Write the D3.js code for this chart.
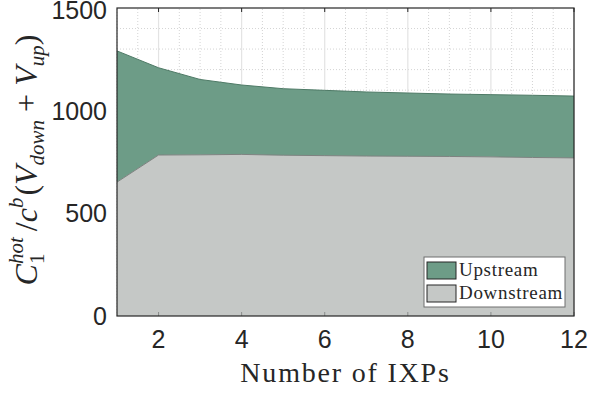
<!DOCTYPE html>
<html>
<head>
<meta charset="utf-8">
<script src="https://cdn.jsdelivr.net/npm/d3@7"></script>
<style>
  html, body { margin: 0; padding: 0; background: #fff; }
  svg { display: block; }
</style>
</head>
<body>
<svg id="chart" width="589" height="393"></svg>
<script>
// Number of IXPs on the x axis
const ixps = [1, 2, 3, 4, 5, 6, 7, 8, 9, 10, 11, 12];
// Stacked series (bottom layer first)
const downstream = [652, 784, 785, 787, 783, 781, 779, 778, 777, 775, 772, 770];
const upstream   = [639, 425, 367, 338, 324, 318, 312, 308, 304, 303, 303, 301];
const seriesNames = ["Downstream", "Upstream"];
// Tick values
const xTicks = [2, 4, 6, 8, 10, 12];
const yTicks = [0, 500, 1000, 1500];

const svg = d3.select("#chart");
const margin = { left: 117, right: 15, top: 8, bottom: 77 };
const W = 589, H = 393;
const x0 = margin.left, x1 = W - margin.right;
const y0 = H - margin.bottom, y1 = margin.top;

const x = d3.scaleLinear().domain([1, 12]).range([x0, x1]);
const y = d3.scaleLinear().domain([0, 1500]).range([y0, y1]);

const colors = { Downstream: "#c5c8c6", Upstream: "#6d9c87" };
const edgeColors = { Downstream: "#7e8280", Upstream: "#4e7a66" };

// grid (minor dotted, major solid) underneath the areas
const grid = svg.append("g");
d3.range(1, 12.01, 0.5).filter(v => v % 2 !== 0).forEach(v => {
  grid.append("line").attr("x1", x(v)).attr("x2", x(v)).attr("y1", y0).attr("y2", y1)
    .attr("stroke", "#d4d4d4").attr("stroke-width", 1).attr("stroke-dasharray", "1,2");
});
d3.range(100, 1500, 100).filter(v => v % 500 !== 0).forEach(v => {
  grid.append("line").attr("x1", x0).attr("x2", x1).attr("y1", y(v)).attr("y2", y(v))
    .attr("stroke", "#d4d4d4").attr("stroke-width", 1).attr("stroke-dasharray", "1,2");
});
xTicks.forEach(v => {
  grid.append("line").attr("x1", x(v)).attr("x2", x(v)).attr("y1", y0).attr("y2", y1)
    .attr("stroke", "#e3e3e3").attr("stroke-width", 1.2);
});
yTicks.slice(1, -1).forEach(v => {
  grid.append("line").attr("x1", x0).attr("x2", x1).attr("y1", y(v)).attr("y2", y(v))
    .attr("stroke", "#e3e3e3").attr("stroke-width", 1.2);
});

// stacked areas
const table = ixps.map((n, i) => ({ n, Downstream: downstream[i], Upstream: upstream[i] }));
const stacked = d3.stack().keys(seriesNames)(table);
const area = d3.area().x(d => x(d.data.n)).y0(d => y(d[0])).y1(d => y(d[1]));
const topLine = d3.line().x(d => x(d.data.n)).y(d => y(d[1]));

svg.append("g").selectAll("path.area").data(stacked).join("path")
  .attr("class", "area")
  .attr("d", area)
  .attr("fill", d => colors[d.key]);
svg.append("g").selectAll("path.edge").data(stacked).join("path")
  .attr("class", "edge")
  .attr("d", topLine)
  .attr("fill", "none")
  .attr("stroke", d => edgeColors[d.key])
  .attr("stroke-width", 1);

// axes frame and inward ticks
const axisColor = "#262626";
const frame = svg.append("g");
xTicks.forEach(v => {
  frame.append("line").attr("x1", x(v)).attr("x2", x(v)).attr("y1", y1).attr("y2", y1 + 4)
    .attr("stroke", axisColor).attr("stroke-width", 1);
  frame.append("line").attr("x1", x(v)).attr("x2", x(v)).attr("y1", y0).attr("y2", y0 - 4)
    .attr("stroke", "#8a8c8b").attr("stroke-width", 1);
});
frame.append("rect").attr("x", x0).attr("y", y1).attr("width", x1 - x0).attr("height", y0 - y1)
  .attr("fill", "none").attr("stroke", axisColor).attr("stroke-width", 1.2);

// tick labels
const tickFont = "'Liberation Sans', Arial, Helvetica, sans-serif";
svg.append("g").selectAll("text").data(xTicks).join("text")
  .attr("x", d => x(d)).attr("y", y0 + 32)
  .attr("text-anchor", "middle")
  .attr("font-family", tickFont).attr("font-size", 25).attr("fill", axisColor)
  .text(d => d);
svg.append("g").selectAll("text").data(yTicks).join("text")
  .attr("x", x0 - 10).attr("y", d => Math.max(y(d) + 9, 19))
  .attr("text-anchor", "end")
  .attr("font-family", tickFont).attr("font-size", 25).attr("fill", axisColor)
  .text(d => d);

// x axis title
const serif = "'Liberation Serif', 'Times New Roman', serif";
svg.append("text")
  .attr("x", (x0 + x1) / 2).attr("y", 382)
  .attr("text-anchor", "middle")
  .attr("font-family", serif).attr("font-size", 28).attr("letter-spacing", 1.8)
  .attr("fill", "#262626")
  .text("Number of IXPs");

// y axis title: C_1^{hot} / c^b (V_down + V_up), laid out piece by piece
const yLabel = [
  { t: "C", it: true, s: 32 },
  { t: "hot", it: true, s: 21, dy: -14, stack: "start" },
  { t: "1", it: false, s: 21, dy: 7, stack: "end" },
  { t: "/", it: false, s: 32, pad: 6 },
  { t: "c", it: true, s: 32 },
  { t: "b", it: true, s: 21, dy: -14 },
  { t: "(", it: false, s: 32, pad: 2 },
  { t: "V", it: true, s: 32 },
  { t: "down", it: true, s: 21, dy: 7 },
  { t: "+", it: false, s: 32, pad: 8, padAfter: 8 },
  { t: "V", it: true, s: 32 },
  { t: "up", it: true, s: 21, dy: 7 },
  { t: ")", it: false, s: 32 }
];
const yl = svg.append("g");
let cursor = 0, stackStart = 0, stackMax = 0;
yLabel.forEach(p => {
  cursor += p.pad || 0;
  if (p.stack === "end") cursor = stackStart;
  const el = yl.append("text")
    .attr("x", cursor).attr("y", p.dy || 0)
    .attr("font-family", serif).attr("font-size", p.s)
    .attr("font-style", p.it ? "italic" : "normal")
    .attr("fill", "#262626")
    .text(p.t);
  const w = el.node().getComputedTextLength();
  if (p.stack === "start") { stackStart = cursor; stackMax = w; cursor += w; }
  else if (p.stack === "end") { cursor = stackStart + Math.max(stackMax, w); }
  else cursor += w;
  cursor += p.padAfter || 0;
});
const labelLen = cursor;
yl.attr("transform", `translate(37, ${160 + labelLen / 2}) rotate(-90)`);

// legend
const lg = svg.append("g").attr("transform", "translate(424, 257)");
lg.append("rect").attr("width", 141).attr("height", 50)
  .attr("fill", "#fff").attr("stroke", "#6e6e6e").attr("stroke-width", 1);
["Upstream", "Downstream"].forEach((k, i) => {
  lg.append("rect").attr("x", 3).attr("y", 5 + i * 23).attr("width", 29).attr("height", 17)
    .attr("fill", colors[k]).attr("stroke", "#262626").attr("stroke-width", 1);
  lg.append("text").attr("x", 35).attr("y", 19 + i * 23)
    .attr("font-family", serif).attr("font-size", 19).attr("letter-spacing", 0.7)
    .attr("fill", "#262626").text(k);
});
</script>
</body>
</html>
